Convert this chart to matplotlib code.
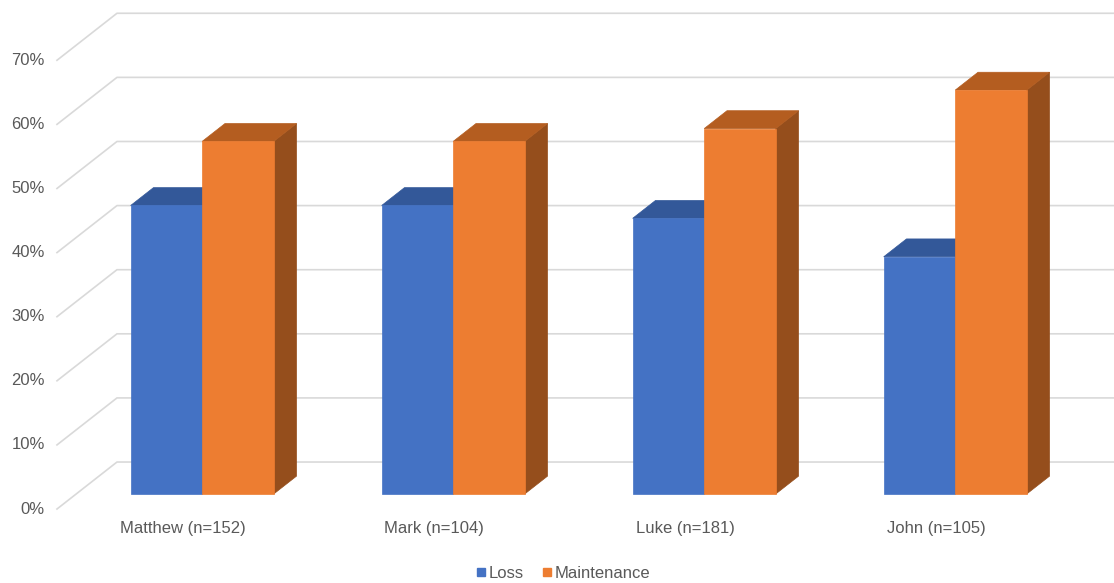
import numpy as np
import matplotlib.pyplot as plt
from matplotlib.patches import Polygon
from matplotlib.lines import Line2D

plt.rcParams['font.family'] = ['Liberation Sans', 'DejaVu Sans']

gospels = ['Matthew', 'Mark', 'Luke', 'John']
sample_n = [152, 104, 181, 105]
loss = [0.45, 0.45, 0.43, 0.37]
maintenance = [0.55, 0.55, 0.57, 0.63]
y_ticks = [0.0, 0.1, 0.2, 0.3, 0.4, 0.5, 0.6, 0.7]

# fake 3d: one unit of depth moves a point right (in categories) and up (in value)
DX = 0.239
DY = 0.0733
BAR_W = 0.285
D_FRONT, D_BACK = 0.32, 0.70
WALL_X = -0.502

BLUE = ('#4472c4', '#335899', '#2a4a80')
ORANGE = ('#ed7d31', '#b45d20', '#954e1c')
GRID = '#d9d9d9'
TEXT = '#595959'


def p(x, y, d):
    return (x + d * DX, y + d * DY)


def draw_box(ax, x0, x1, h, colors):
    face, top, side = colors
    side_poly = [p(x1, 0, D_FRONT), p(x1, 0, D_BACK), p(x1, h, D_BACK), p(x1, h, D_FRONT)]
    top_poly = [p(x0, h, D_FRONT), p(x0, h, D_BACK), p(x1, h, D_BACK), p(x1, h, D_FRONT)]
    front_poly = [p(x0, 0, D_FRONT), p(x1, 0, D_FRONT), p(x1, h, D_FRONT), p(x0, h, D_FRONT)]
    for poly, c in [(side_poly, side), (top_poly, top), (front_poly, face)]:
        ax.add_patch(Polygon(poly, closed=True, facecolor=c, edgecolor=c, lw=0.5, zorder=3))


fig = plt.figure(figsize=(11.14, 5.83), dpi=100)
ax = fig.add_axes([0, 0, 1, 1])
ax.set_xlim(-0.729, 3.709)
ax.set_ylim(-0.1154, 0.794)
ax.axis('off')

# side wall diagonals + back wall gridlines
for v in y_ticks:
    bx, by = p(WALL_X, v, 1.0)
    ax.plot([WALL_X, bx, 3.709], [v, by, by], color=GRID, lw=1.2, zorder=1)
    ax.text(-0.55, v, '{:.0f}%'.format(v * 100), ha='right', va='center',
            fontsize=12, color=TEXT)

x = np.arange(len(gospels))
for i in x:
    draw_box(ax, i - BAR_W, i, loss[i], BLUE)
    draw_box(ax, i, i + BAR_W, maintenance[i], ORANGE)
    ax.text(i, -0.03, '{} (n={})'.format(gospels[i], sample_n[i]), ha='center',
            va='center', fontsize=12, color=TEXT)

handles = [Line2D([], [], marker='s', ls='none', color=BLUE[0], markersize=6),
           Line2D([], [], marker='s', ls='none', color=ORANGE[0], markersize=6)]
fig.legend(handles, ['Loss', 'Maintenance'], loc='center', bbox_to_anchor=(0.505, 0.017),
           ncol=2, frameon=False, fontsize=12, handletextpad=0.05, columnspacing=1.0,
           labelcolor=TEXT, handlelength=0.8)

fig.savefig('out.png', dpi=100)
